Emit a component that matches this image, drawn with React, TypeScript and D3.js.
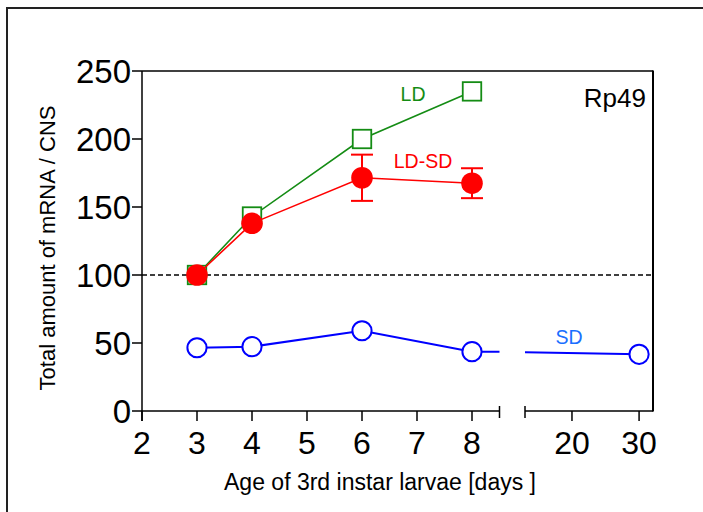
import React from "react";
import * as d3 from "d3";

// Rp49 transcript level per CNS, expressed relative to day 3 (=100)
const days = [3, 4, 6, 8];
const ldValues = [100, 143, 200, 235];
const ldsdValues = [100, 138, 171.5, 167.5];
const ldsdErrors = [0, 0, 17, 11];
const sdDays = [3, 4, 6, 8, 30];
const sdValues = [46.5, 47.3, 59, 43.6, 41.7];

const xTicksLeft = [2, 3, 4, 5, 6, 7, 8];
const xTicksRight = [20, 30];
const yTicks = [0, 50, 100, 150, 200, 250];

const GREEN = "#148c14";
const RED = "#ff0000";
const BLUE = "#0000ff";
const SD_LABEL = "#1a6fff";
const FONT = "Liberation Sans, Arial, sans-serif";

export default function App() {
  const W = 703;
  const H = 512;

  const y = d3.scaleLinear().domain([0, 250]).range([411, 71]);
  const xL = d3.scaleLinear().domain([2, 8.5]).range([142, 499.5]);
  const xR = d3.scaleLinear().domain([13, 32]).range([525, 652.5]);
  const xAny = (d: number) => (d <= 8.5 ? xL(d) : xR(d));

  const line = d3
    .line<[number, number]>()
    .x((d) => d[0])
    .y((d) => d[1]);

  const ldPts: [number, number][] = days.map((d, i) => [xL(d), y(ldValues[i])]);
  const ldsdPts: [number, number][] = days.map((d, i) => [xL(d), y(ldsdValues[i])]);

  // SD line is split at the axis break; the join between day 8 and day 30
  // is interpolated in data space on either side of the gap.
  const last = sdDays.length - 1;
  const a = [sdDays[last - 1], sdValues[last - 1]];
  const b = [sdDays[last], sdValues[last]];
  const interp = d3.scaleLinear().domain([a[0], b[0]]).range([a[1], b[1]]);
  const sdLeft: [number, number][] = sdDays
    .filter((d) => d <= 8.5)
    .map((d, i) => [xL(d), y(sdValues[i])] as [number, number])
    .concat([[xL(8.5), y(interp(8.5))]]);
  const sdRight: [number, number][] = [
    [xR(13), y(interp(13))],
    [xR(b[0]), y(b[1])],
  ];

  const y0 = y(0);
  const sq = 18.5;

  return (
    <svg width={W} height={H} style={{ position: "absolute", left: 0, top: 0 }}>
      <rect x={0} y={0} width={W} height={H} fill="#fff" />
      {/* outer panel frame */}
      <rect x={7} y={8} width={W + 20} height={H + 20} fill="none" stroke="#222" strokeWidth={2} />

      {/* plot frame: top and right */}
      <line x1={142} y1={71} x2={653} y2={71} stroke="#000" strokeWidth={1.3} />
      <line x1={653} y1={70.5} x2={653} y2={y0 + 0.5} stroke="#000" strokeWidth={2} />

      {/* y axis */}
      <line x1={142} y1={71} x2={142} y2={421} stroke="#000" strokeWidth={1.5} />
      {yTicks.map((t) => (
        <g key={"y" + t}>
          <line x1={132} y1={y(t)} x2={142} y2={y(t)} stroke="#000" strokeWidth={1.5} />
          <text
            x={131}
            y={y(t) + 12}
            textAnchor="end"
            fontFamily={FONT}
            fontSize={33}
          >
            {t}
          </text>
        </g>
      ))}

      {/* x axis, left segment */}
      <line x1={142} y1={y0} x2={xL(8.5)} y2={y0} stroke="#000" strokeWidth={1.5} />
      <line x1={xL(8.5)} y1={y0 - 5} x2={xL(8.5)} y2={y0 + 7} stroke="#000" strokeWidth={1.5} />
      {xTicksLeft.map((t) => (
        <line key={"xl" + t} x1={xL(t)} y1={y0} x2={xL(t)} y2={y0 + 10} stroke="#000" strokeWidth={1.5} />
      ))}
      {/* x axis, right segment */}
      <line x1={xR(13)} y1={y0} x2={653} y2={y0} stroke="#000" strokeWidth={1.5} />
      <line x1={xR(13)} y1={y0 - 5} x2={xR(13)} y2={y0 + 7} stroke="#000" strokeWidth={1.5} />
      {xTicksRight.map((t) => (
        <line key={"xr" + t} x1={xR(t)} y1={y0} x2={xR(t)} y2={y0 + 10} stroke="#000" strokeWidth={1.5} />
      ))}
      {[...xTicksLeft, ...xTicksRight].map((t) => (
        <text
          key={"xt" + t}
          x={xAny(t)}
          y={454}
          textAnchor="middle"
          fontFamily={FONT}
          fontSize={32}
        >
          {t}
        </text>
      ))}

      {/* axis titles */}
      <text x={380} y={490} textAnchor="middle" fontFamily={FONT} fontSize={23}>
        Age of 3rd instar larvae [days ]
      </text>
      <text
        transform={`translate(55, ${248}) rotate(-90)`}
        textAnchor="middle"
        fontFamily={FONT}
        fontSize={22}
      >
        Total amount of mRNA / CNS
      </text>

      {/* reference level */}
      <line
        x1={142}
        y1={y(100)}
        x2={653}
        y2={y(100)}
        stroke="#000"
        strokeWidth={1.5}
        strokeDasharray="5,3"
      />

      {/* LD */}
      <path d={line(ldPts) || ""} fill="none" stroke={GREEN} strokeWidth={1.6} />
      {ldPts.map((p, i) => (
        <rect
          key={"ld" + i}
          x={p[0] - sq / 2}
          y={p[1] - sq / 2}
          width={sq}
          height={sq}
          fill="#fff"
          stroke={GREEN}
          strokeWidth={1.8}
        />
      ))}

      {/* LD-SD */}
      <path d={line(ldsdPts) || ""} fill="none" stroke={RED} strokeWidth={1.6} />
      {days.map((d, i) =>
        ldsdErrors[i] > 0 ? (
          <g key={"err" + i} stroke={RED} strokeWidth={2}>
            <line x1={xL(d)} y1={y(ldsdValues[i] - ldsdErrors[i])} x2={xL(d)} y2={y(ldsdValues[i] + ldsdErrors[i])} />
            <line x1={xL(d) - 11} y1={y(ldsdValues[i] + ldsdErrors[i])} x2={xL(d) + 11} y2={y(ldsdValues[i] + ldsdErrors[i])} />
            <line x1={xL(d) - 11} y1={y(ldsdValues[i] - ldsdErrors[i])} x2={xL(d) + 11} y2={y(ldsdValues[i] - ldsdErrors[i])} />
          </g>
        ) : null
      )}
      {ldsdPts.map((p, i) => (
        <circle key={"ldsd" + i} cx={p[0]} cy={p[1]} r={10.8} fill={RED} />
      ))}

      {/* SD */}
      <path d={line(sdLeft) || ""} fill="none" stroke={BLUE} strokeWidth={2} />
      <path d={line(sdRight) || ""} fill="none" stroke={BLUE} strokeWidth={2} />
      {sdDays.map((d, i) => (
        <circle key={"sd" + i} cx={xAny(d)} cy={y(sdValues[i])} r={9.6} fill="#fff" stroke={BLUE} strokeWidth={2} />
      ))}

      {/* series labels */}
      <text x={413} y={94} textAnchor="middle" dominantBaseline="central" fontFamily={FONT} fontSize={19.5} fill={GREEN}>
        LD
      </text>
      <text x={423} y={161} textAnchor="middle" dominantBaseline="central" fontFamily={FONT} fontSize={19.5} fill={RED}>
        LD-SD
      </text>
      <text x={569} y={337} textAnchor="middle" dominantBaseline="central" fontFamily={FONT} fontSize={19.5} fill={SD_LABEL}>
        SD
      </text>
      <text x={646} y={107} textAnchor="end" fontFamily={FONT} fontSize={26} fill="#000">
        Rp49
      </text>
    </svg>
  );
}
